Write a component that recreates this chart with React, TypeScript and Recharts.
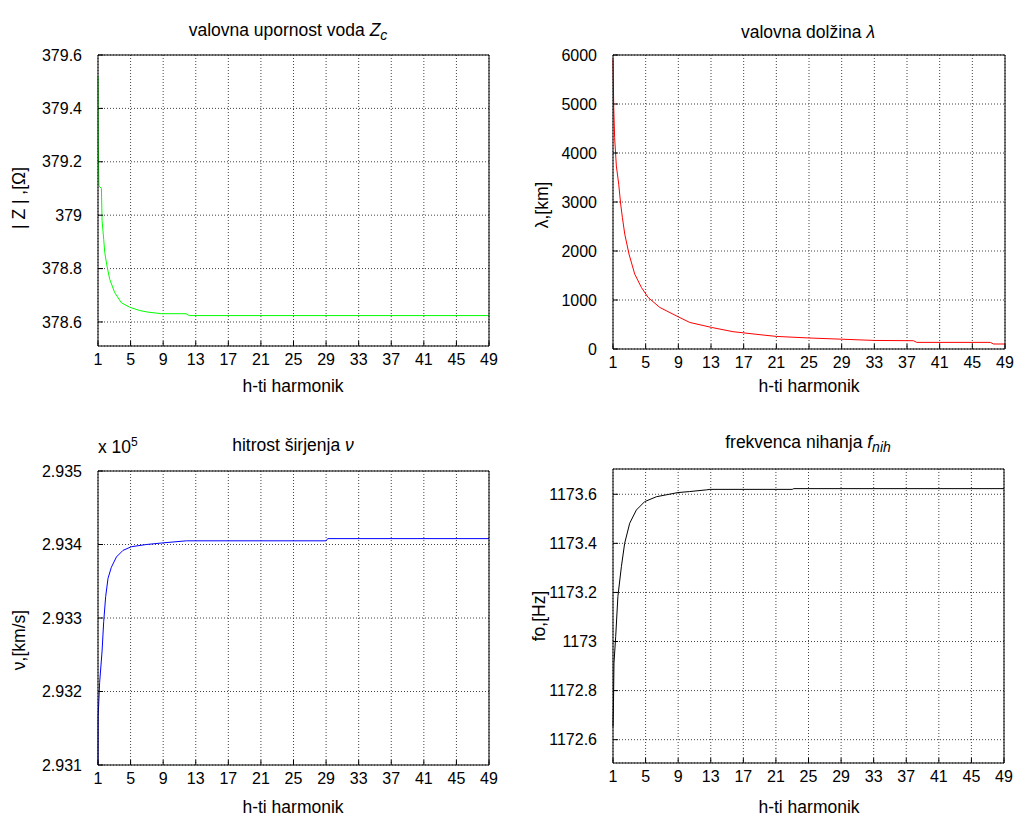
import React from 'react';
import { LineChart, Line, XAxis, YAxis, CartesianGrid } from 'recharts';

// harmonic order axis
const hTicks = [1, 5, 9, 13, 17, 21, 25, 29, 33, 37, 41, 45, 49];

// valovna upornost |Z| [Ohm]
const zH = [1, 1.03, 1.12, 1.42, 1.5, 1.7, 1.83, 2.1, 2.44, 3.05, 3.87, 4.9, 6.1, 7.1, 8.8, 11.8, 12.2, 49];
const zVal = [379.52, 379.26, 379.11, 379.1, 378.98, 378.91, 378.86, 378.81, 378.76, 378.71, 378.672, 378.655, 378.643, 378.637, 378.631, 378.631, 378.624, 378.624];
const zTicks = [378.6, 378.8, 379, 379.2, 379.4, 379.6];

// valovna dolzina lambda [km]
const lamH = [1, 1.09, 1.2, 1.41, 1.7, 1.94, 2.15, 2.44, 2.96, 3.66, 4.48, 5.3, 6.73, 8.98, 10.4, 13.07, 15.7, 19, 21, 25, 29, 33, 37.8, 38.2, 47.2, 47.6, 49];
const lamVal = [5912, 4926, 4314, 3737, 3364, 2956, 2683, 2344, 1937, 1529, 1256, 1052, 848, 658, 542, 440, 353, 292, 257, 225, 200, 175, 169, 135, 135, 102, 102];
const lamTicks = [0, 1000, 2000, 3000, 4000, 5000, 6000];

// hitrost sirjenja v [x 10^5 km/s]
const nuH = [1, 1.02, 1.2, 1.5, 1.7, 1.94, 2.23, 2.64, 3.26, 4.07, 5.1, 6.94, 8.78, 11.85, 29, 29.2, 49];
const nuVal = [2.931, 2.93166, 2.93212, 2.93255, 2.93295, 2.93329, 2.93354, 2.93369, 2.93383, 2.93392, 2.93397, 2.934, 2.93402, 2.93405, 2.93405, 2.93408, 2.93408];
const nuTicks = [2.931, 2.932, 2.933, 2.934, 2.935];

// frekvenca nihanja fo [Hz]
const fH = [1, 1.06, 1.12, 1.33, 1.6, 2.03, 2.43, 3.05, 3.87, 4.89, 6.33, 8.98, 10.4, 12.46, 12.9, 23, 23.2, 49];
const fVal = [1172.653, 1172.75, 1172.912, 1173.02, 1173.183, 1173.305, 1173.4, 1173.482, 1173.536, 1173.57, 1173.59, 1173.607, 1173.611, 1173.618, 1173.62, 1173.62, 1173.623, 1173.623];
const fTicks = [1172.6, 1172.8, 1173, 1173.2, 1173.4, 1173.6];

const FONT = '"Liberation Sans", Arial, sans-serif';
const tickStyle = { fill: '#000', fontSize: 16, fontFamily: FONT };

function toRows(xs: number[], ys: number[]) {
  return xs.map((h, i) => ({ h, v: ys[i] }));
}

interface PanelProps {
  left: number;
  top: number;
  // plot box inside the 509x409 cell
  box: { x0: number; x1: number; y0: number; y1: number };
  data: { h: number; v: number }[];
  domain: [number, number];
  ticks: number[];
  fmt: (v: number) => string;
  color: string;
}

function Panel({ left, top, box, data, domain, ticks, fmt, color }: PanelProps) {
  const margin = { top: box.y0 - 1, left: box.x0 - 1, right: 509 - box.x1 - 1, bottom: 409 - box.y1 - 1 };
  return (
    <div style={{ position: 'absolute', left, top }}>
      <LineChart width={509} height={409} data={data} margin={margin}>
        <CartesianGrid stroke="#444" strokeDasharray="1 2" strokeWidth={1} />
        <XAxis
          dataKey="h"
          type="number"
          domain={[1, 49]}
          ticks={hTicks}
          height={1}
          interval={0}
          stroke="#000"
          tickSize={-5}
          tickMargin={13}
          tick={tickStyle}
        />
        <XAxis
          xAxisId="top"
          orientation="top"
          dataKey="h"
          type="number"
          domain={[1, 49]}
          ticks={hTicks}
          height={1}
          interval={0}
          stroke="#000"
          tickSize={-5}
          tick={false}
        />
        <YAxis
          type="number"
          domain={domain}
          ticks={ticks}
          allowDataOverflow
          width={1}
          interval={0}
          stroke="#000"
          tickSize={-5}
          tickMargin={21}
          tick={tickStyle}
          tickFormatter={fmt}
        />
        <YAxis
          yAxisId="right"
          orientation="right"
          type="number"
          domain={domain}
          ticks={ticks}
          allowDataOverflow
          width={1}
          interval={0}
          stroke="#000"
          tickSize={-5}
          tick={false}
        />
        <Line type="linear" dataKey="v" stroke={color} strokeWidth={1} dot={false} isAnimationActive={false} />
      </LineChart>
    </div>
  );
}

const txt: React.CSSProperties = {
  position: 'absolute',
  fontFamily: FONT,
  fontSize: 17.5,
  color: '#000',
  whiteSpace: 'nowrap',
  lineHeight: 1,
};

function Centered({ x, y, children }: { x: number; y: number; children: React.ReactNode }) {
  return <div style={{ ...txt, left: x, top: y, transform: 'translate(-50%, -50%)' }}>{children}</div>;
}

function Rotated({ x, y, children }: { x: number; y: number; children: React.ReactNode }) {
  return (
    <div style={{ ...txt, left: x, top: y, transform: 'translate(-50%, -50%) rotate(-90deg)' }}>{children}</div>
  );
}

const fmt1 = (v: number) => String(Number(v.toFixed(1)));
const fmt0 = (v: number) => String(v);
const fmt3 = (v: number) => v.toFixed(3);

export default function App() {
  return (
    <div style={{ position: 'absolute', left: 0, top: 0, width: 1018, height: 818, background: '#fff', overflow: 'hidden' }}>
      <Panel
        left={0}
        top={0}
        box={{ x0: 98, x1: 489, y0: 55, y1: 346 }}
        data={toRows(zH, zVal)}
        domain={[378.51, 379.6]}
        ticks={zTicks}
        fmt={fmt1}
        color="#00ff00"
      />
      <Panel
        left={509}
        top={0}
        box={{ x0: 104, x1: 496, y0: 55, y1: 349 }}
        data={toRows(lamH, lamVal)}
        domain={[0, 6000]}
        ticks={lamTicks}
        fmt={fmt0}
        color="#ff0000"
      />
      <Panel
        left={0}
        top={409}
        box={{ x0: 98, x1: 489, y0: 62, y1: 356 }}
        data={toRows(nuH, nuVal)}
        domain={[2.931, 2.935]}
        ticks={nuTicks}
        fmt={fmt3}
        color="#0000ff"
      />
      <Panel
        left={509}
        top={409}
        box={{ x0: 104, x1: 495, y0: 60, y1: 354 }}
        data={toRows(fH, fVal)}
        domain={[1172.505, 1173.703]}
        ticks={fTicks}
        fmt={fmt1}
        color="#000000"
      />

      {/* titles */}
      <Centered x={288} y={32}>
        valovna upornost voda <i>Z</i>
        <sub style={{ fontSize: 14 }}>
          <i>c</i>
        </sub>
      </Centered>
      <Centered x={808} y={33}>
        valovna dolžina <i>λ</i>
      </Centered>
      <Centered x={293} y={446}>
        hitrost širjenja <i>ν</i>
      </Centered>
      <Centered x={808} y={444}>
        frekvenca nihanja <i>f</i>
        <sub style={{ fontSize: 14 }}>
          <i>nih</i>
        </sub>
      </Centered>
      <div style={{ ...txt, left: 98, top: 436 }}>
        x 10<sup style={{ fontSize: 12 }}>5</sup>
      </div>

      {/* axis labels */}
      <Centered x={293} y={387}>h-ti harmonik</Centered>
      <Centered x={809} y={387}>h-ti harmonik</Centered>
      <Centered x={293} y={808}>h-ti harmonik</Centered>
      <Centered x={809} y={808}>h-ti harmonik</Centered>
      <Rotated x={20} y={198}>| Z | ,[Ω]</Rotated>
      <Rotated x={543} y={205}>λ,[km]</Rotated>
      <Rotated x={20} y={640}>ν,[km/s]</Rotated>
      <Rotated x={540} y={616}>fo,[Hz]</Rotated>
    </div>
  );
}
